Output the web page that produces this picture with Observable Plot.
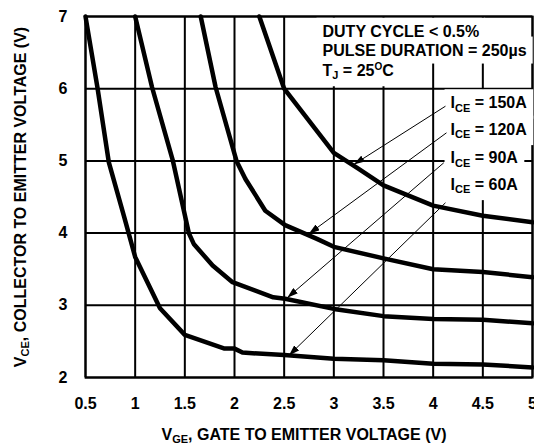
<!DOCTYPE html>
<html>
<head>
<meta charset="utf-8">
<script src="https://cdn.jsdelivr.net/npm/d3@7"></script>
<script src="https://cdn.jsdelivr.net/npm/@observablehq/plot@0.6"></script>
<style>
  html, body { margin: 0; padding: 0; overflow: hidden; background: white; }
  #chart { width: 534px; height: 445px; }
</style>
</head>
<body>
<div id="chart"></div>
<script>
// ---- Data ----
const xTicks = [0.5, 1, 1.5, 2, 2.5, 3, 3.5, 4, 4.5, 5];
const xTickLabels = ["0.5", "1", "1.5", "2", "2.5", "3", "3.5", "4", "4.5", "5"];
const yTicks = [2, 3, 4, 5, 6, 7];
const yTickLabels = ["2", "3", "4", "5", "6", "7"];

const currents = ["150A", "120A", "90A", "60A"];

const vge_150A = [2.25, 2.5, 3.0, 3.25, 3.5, 4.0, 4.5, 5.0];
const vce_150A = [7.0, 6.0, 5.11, 4.89, 4.66, 4.38, 4.24, 4.15];

const vge_120A = [1.66, 1.81, 2.02, 2.11, 2.31, 2.51, 2.83, 3.0, 3.5, 4.0, 4.5, 5.0];
const vce_120A = [7.0, 6.02, 5.0, 4.75, 4.31, 4.11, 3.92, 3.81, 3.65, 3.50, 3.46, 3.39];

const vge_90A = [1.0, 1.17, 1.38, 1.54, 1.59, 1.78, 1.98, 2.39, 2.51, 3.0, 3.5, 4.0, 4.5, 5.0];
const vce_90A = [7.0, 6.02, 5.0, 4.0, 3.85, 3.55, 3.32, 3.11, 3.09, 2.95, 2.85, 2.81, 2.80, 2.75];

const vge_60A = [0.5, 0.62, 0.735, 0.89, 1.0, 1.25, 1.5, 1.9, 2.0, 2.08, 2.5, 3.0, 3.5, 4.0, 4.5, 5.0];
const vce_60A = [7.0, 6.02, 4.98, 4.22, 3.67, 2.96, 2.59, 2.40, 2.40, 2.345, 2.31, 2.26, 2.24, 2.19, 2.18, 2.14];

const xTitle = "V_{GE}, GATE TO EMITTER VOLTAGE (V)";
const yTitle = "V_{CE}, COLLECTOR TO EMITTER VOLTAGE (V)";

const noteLines = ["DUTY CYCLE < 0.5%", "PULSE DURATION = 250µs", "T_{J} = 25^{O}C"];
const noteX = [2.886, 2.886, 2.886];
const noteY = [6.79, 6.53, 6.25];

const labelTexts = ["I_{CE} = 150A", "I_{CE} = 120A", "I_{CE} = 90A", "I_{CE} = 60A"];
const labelX = [4.175, 4.175, 4.175, 4.175];
const labelY = [5.80, 5.435, 5.04, 4.673];

const arrowX1 = [4.124, 4.134, 4.107, 4.124];
const arrowY1 = [5.758, 5.389, 4.974, 4.420];
const arrowX2 = [3.201, 2.748, 2.531, 2.547];
const arrowY2 = [4.950, 3.990, 3.104, 2.305];

// ---- Build tables ----
const seriesVge = {"150A": vge_150A, "120A": vge_120A, "90A": vge_90A, "60A": vge_60A};
const seriesVce = {"150A": vce_150A, "120A": vce_120A, "90A": vce_90A, "60A": vce_60A};
const rows = currents.flatMap(c => seriesVge[c].map((v, i) => ({current: c, vge: v, vce: seriesVce[c][i]})));
const notes = noteLines.map((t, i) => ({t, x: noteX[i], y: noteY[i]}));
const labels = labelTexts.map((t, i) => ({t, x: labelX[i], y: labelY[i]}));
const arrows = currents.map((c, i) => ({c, x1: arrowX1[i], y1: arrowY1[i], x2: arrowX2[i], y2: arrowY2[i]}));

const FONT = "'Liberation Sans', Arial, Helvetica, sans-serif";

const svg = Plot.plot({
  width: 534,
  height: 445,
  marginLeft: 85,
  marginRight: 2,
  marginTop: 16,
  marginBottom: 68,
  style: {fontFamily: FONT, fontSize: "16px", fontWeight: "bold", color: "black", background: "white", overflow: "visible"},
  x: {domain: [0.5, 5]},
  y: {domain: [2, 7]},
  marks: [
    Plot.gridX(xTicks, {stroke: "black", strokeOpacity: 1, strokeWidth: 2}),
    Plot.gridY(yTicks, {stroke: "black", strokeOpacity: 1, strokeWidth: 2}),
    Plot.frame({stroke: "black", strokeWidth: 2}),
    Plot.axisX(xTicks, {tickSize: 0, tickPadding: 20, label: null, fontSize: 16, fontWeight: "bold",
      tickFormat: d => xTickLabels[xTicks.indexOf(d)]}),
    Plot.axisY(yTicks, {tickSize: 0, tickPadding: 18, label: null, fontSize: 16, fontWeight: "bold",
      tickFormat: d => yTickLabels[yTicks.indexOf(d)]}),
    Plot.text(notes, {x: "x", y: "y", text: "t", textAnchor: "start", fontSize: 16, fontWeight: "bold", fill: "black", className: "boxed"}),
    Plot.text(labels, {x: "x", y: "y", text: "t", textAnchor: "start", fontSize: 16, fontWeight: "bold", fill: "black", className: "boxed"}),
    Plot.line(rows, {x: "vge", y: "vce", z: "current", stroke: "black", strokeWidth: 4.5, strokeLinejoin: "round"}),
    Plot.link(arrows, {x1: "x1", y1: "y1", x2: "x2", y2: "y2", stroke: "black", strokeWidth: 1, className: "arrows"}),
    Plot.text([yTitle], {frameAnchor: "left", dx: -65, rotate: -90, textAnchor: "middle", lineAnchor: "middle",
      text: d => d, fontSize: 16, fontWeight: "bold", fill: "black"}),
    Plot.text([xTitle], {frameAnchor: "bottom", dy: 57, dx: -5, textAnchor: "middle", lineAnchor: "middle",
      text: d => d, fontSize: 16, fontWeight: "bold", fill: "black"})
  ]
});

document.getElementById("chart").append(svg);

// Rich text: subscripts _{..} and superscripts ^{..}
d3.select(svg).selectAll("text").each(function () {
  const t = this.textContent;
  if (!/[_^]\{/.test(t)) return;
  const parts = t.split(/([_^]\{[^}]*\})/).filter(s => s.length);
  this.textContent = "";
  let shift = 0;
  for (const p of parts) {
    let target = 0, txt = p, fs = null;
    if (p.startsWith("_{")) { target = 3.5; txt = p.slice(2, -1); fs = "11px"; }
    else if (p.startsWith("^{")) { target = -5.5; txt = p.slice(2, -1); fs = "10px"; }
    const ts = d3.select(this).append("tspan").attr("dy", target - shift).text(txt);
    if (fs) ts.attr("font-size", fs);
    shift = target;
  }
});

// White boxes behind annotation texts
d3.select(svg).selectAll("g.boxed text").each(function () {
  const b = this.getBBox();
  const padX = 6, padY = 5;
  const r = document.createElementNS("http://www.w3.org/2000/svg", "rect");
  r.setAttribute("x", b.x - padX);
  r.setAttribute("y", b.y - padY);
  r.setAttribute("width", b.width + 2 * padX);
  r.setAttribute("height", b.height + 2 * padY);
  r.setAttribute("fill", "white");
  r.setAttribute("stroke", "none");
  const tr = this.getAttribute("transform");
  if (tr) r.setAttribute("transform", tr);
  this.parentNode.insertBefore(r, this.parentNode.firstChild);
});

// Filled arrowheads
const defs = d3.select(svg).insert("defs", ":first-child");
defs.append("marker")
  .attr("id", "ahead")
  .attr("viewBox", "0 0 11 7")
  .attr("refX", 11).attr("refY", 3.5)
  .attr("markerWidth", 11).attr("markerHeight", 7)
  .attr("markerUnits", "userSpaceOnUse")
  .attr("orient", "auto")
  .append("path").attr("d", "M0,0L11,3.5L0,7Z").attr("fill", "black");
d3.select(svg).selectAll("g.arrows path").attr("marker-end", "url(#ahead)");
</script>
</body>
</html>
